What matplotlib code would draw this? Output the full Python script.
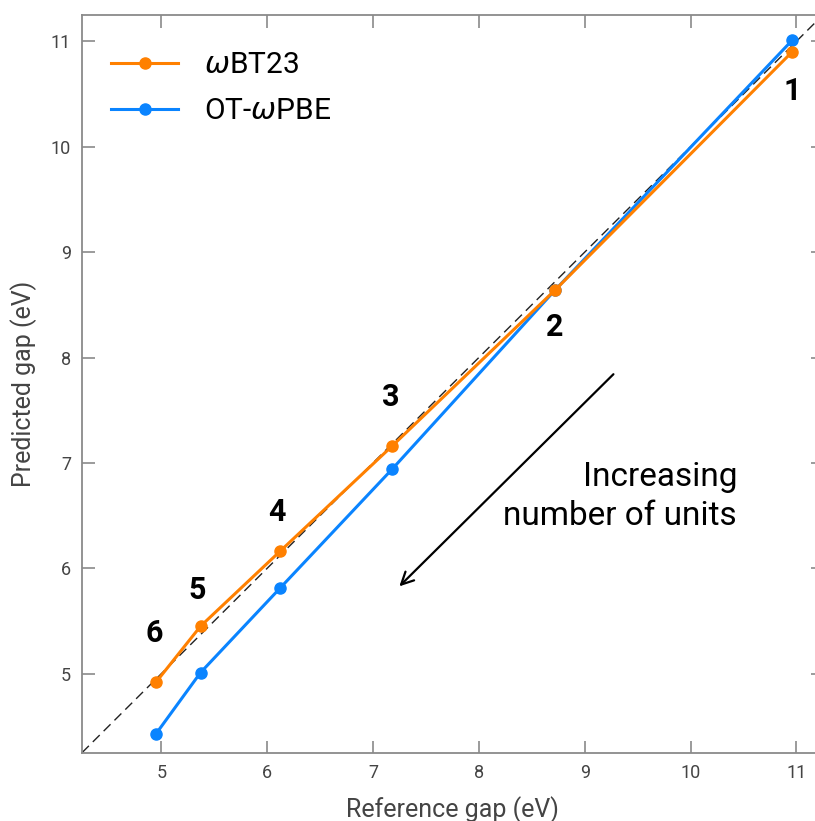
import matplotlib
matplotlib.use("Agg")
import matplotlib.pyplot as plt

plt.rcParams['font.family'] = ['Roboto', 'DejaVu Sans']
plt.rcParams['mathtext.fontset'] = 'dejavusans'

# data
ref_gap = [4.95, 5.37, 6.12, 7.18, 8.72, 10.96]
wbt23_gap = [4.92, 5.45, 6.16, 7.16, 8.64, 10.90]
otwpbe_gap = [4.43, 5.01, 5.81, 6.94, 8.64, 11.01]
point_labels = ["6", "5", "4", "3", "2", "1"]
label_x = [4.93, 5.34, 6.09, 7.17, 8.72, 10.96]
label_y = [5.39, 5.79, 6.53, 7.63, 8.29, 10.53]
ticks = [5, 6, 7, 8, 9, 10, 11]
lims = (4.25, 11.25)

ORANGE = '#FF8000'
BLUE = '#0A84FF'
GRAY = '#8a8a8a'

fig = plt.figure(figsize=(8.15, 8.21), dpi=100)
ax = fig.add_axes([0.1006, 0.0832, 0.909, 0.8985])

# parity line
ax.plot(lims, lims, color='#222222', lw=1.0, ls=(0, (7, 4)), zorder=1)

ax.plot(ref_gap, wbt23_gap, '-o', color=ORANGE, lw=2.2, ms=8,
        label=r'$\omega$BT23', zorder=3)
ax.plot(ref_gap, otwpbe_gap, '-o', color=BLUE, lw=2.2, ms=8,
        label=r'OT-$\omega$PBE', zorder=2)

for lab, lx, ly in zip(point_labels, label_x, label_y):
    ax.text(lx, ly, lab, fontsize=22, fontweight='bold', ha='center', va='center')

# arrow + note
ax.annotate('', xy=(7.23, 5.81), xytext=(9.29, 7.86),
            arrowprops=dict(arrowstyle='->', lw=1.6, color='black', mutation_scale=22))
ax.text(10.44, 6.68, 'Increasing\nnumber of units', fontsize=24, ha='right', va='center',
        multialignment='right', linespacing=1.3)

ax.set_xlim(lims)
ax.set_ylim(lims)
ax.set_xticks(ticks)
ax.set_yticks(ticks)
ax.tick_params(direction='in', length=9, width=1.2, color=GRAY, labelsize=13,
               labelcolor='#444444', top=True, right=True, pad=8)
for sp in ax.spines.values():
    sp.set_color(GRAY)
    sp.set_linewidth(1.3)

ax.set_xlabel('Reference gap (eV)', fontsize=18, color='#444444', labelpad=10)
ax.set_ylabel('Predicted gap (eV)', fontsize=18, color='#444444', labelpad=10)

ax.legend(loc='upper left', bbox_to_anchor=(0.005, 0.985), fontsize=21.5, frameon=False,
          handlelength=2.25, handletextpad=0.85, labelspacing=0.6, borderaxespad=0.45)

fig.savefig('out.png', dpi=100)
